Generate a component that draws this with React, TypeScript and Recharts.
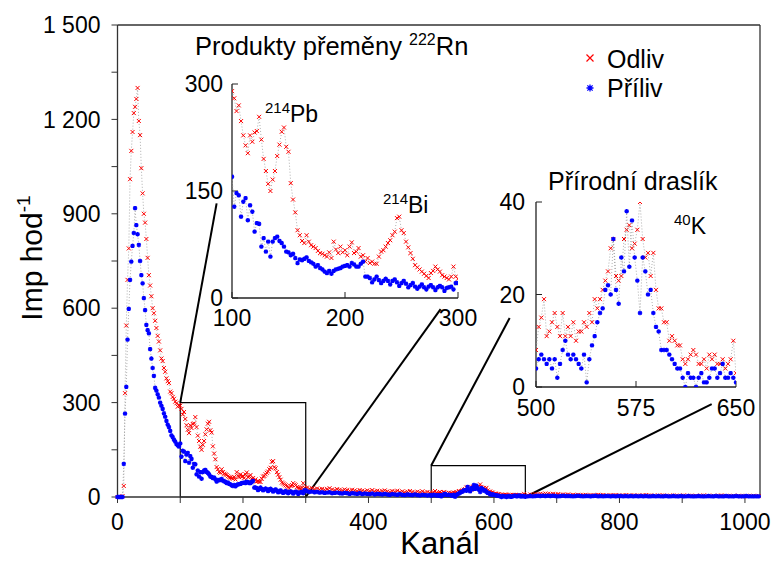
import React from "react";
import { ScatterChart, Scatter, XAxis, YAxis, ReferenceArea, ReferenceLine, CartesianGrid } from "recharts";

// spectrum, in channel segments (first channel, step)
const odlivA = [0, 0, 0, 0, 3, 35, 330, 545, 690, 790, 1010, 1100, 1160, 1220, 1240, 1265, 1300, 1195, 1150, 1045,
    965, 900, 872, 820, 760, 705, 672, 638, 600, 584, 560, 537, 512, 494, 466, 440, 432, 410, 398, 377,
    368, 362, 335, 330, 318, 312, 303, 298, 287, 292];
const prilivA = [0, 0, 0, 0, 0, 105, 265, 350, 500, 598, 690, 748, 798, 839, 918, 864, 835, 801, 750, 705,
    679, 632, 594, 547, 530, 520, 470, 440, 410, 385, 347, 338, 326, 316, 300, 290, 280, 266, 255, 242,
    230, 222, 210, 196, 190, 182, 176, 168, 164, 160];

const odlivB = [290, 280, 262, 270, 248, 228, 214, 203, 228, 219, 232, 234, 254, 222, 195, 178, 160, 150, 166, 178,
    199, 215, 233, 239, 212, 205, 161, 138, 120, 95, 88, 80, 77, 88, 79, 74, 72, 70, 66, 63,
    62, 60, 58, 64, 56, 79, 68, 63, 72, 64, 67, 60, 72, 78, 63, 65, 70, 58, 60, 51,
    56, 49, 51, 48, 48, 58, 65, 67, 72, 77, 81, 88, 93, 112, 114, 95, 91, 79, 71, 63,
    55, 46, 43, 40, 37, 34, 31, 28, 35, 38, 44, 40, 37, 32, 30, 28, 26, 30, 44, 30, 27];
const prilivB = [170, 128, 147, 144, 114, 135, 140, 109, 130, 121, 93, 105, 104, 72, 84, 65, 79, 58, 79, 84,
    86, 80, 77, 72, 65, 64, 60, 62, 56, 49, 54, 53, 55, 57, 52, 50, 48, 44, 46, 42,
    40, 37, 35, 38, 34, 38, 40, 41, 42, 44, 45, 46, 44, 49, 47, 44, 44, 48, 51, 30,
    30, 28, 22, 26, 30, 25, 21, 24, 27, 24, 19, 24, 26, 22, 17, 21, 24, 20, 15, 18,
    21, 16, 13, 16, 19, 15, 12, 16, 18, 15, 11, 15, 17, 15, 10, 14, 15, 16, 12, 21, 21];

const odlivC = [30, 26, 28, 25, 27, 24, 26, 23, 25, 28, 24, 22, 25, 23, 21, 24, 22, 20, 23, 21,
    19, 22, 20, 18, 21, 19, 22, 18, 20, 17, 19, 21, 18, 16, 19, 17, 20, 16, 18, 15,
    17, 19, 16, 14, 17, 15, 18, 14, 16, 13];
const prilivC = [18, 16, 17, 15, 16, 14, 15, 13, 14, 15, 12, 13, 14, 12, 11, 13, 12, 10, 12, 11,
    10, 12, 9, 11, 10, 9, 11, 8, 10, 9, 8, 10, 8, 7, 9, 8, 7, 9, 7, 6,
    8, 7, 6, 8, 6, 5, 7, 6, 5, 6];

const odlivD = [8, 13, 15, 19, 11, 12, 14, 16, 13, 11, 16, 11, 13, 11, 14, 10, 12, 12, 14, 13,
    16, 14, 19, 17, 19, 21, 23, 25, 30, 32, 24, 23, 24, 32, 34, 35, 30, 31, 34, 40,
    32, 28, 29, 24, 29, 21, 17, 17, 14, 14, 10, 11, 10, 9, 9, 6, 5, 6, 7, 8,
    7, 5, 5, 6, 4, 7, 6, 7, 5, 5, 6, 4, 5, 6, 10, 3];
const prilivD = [4, 6, 7, 6, 5, 6, 4, 6, 2, 5, 8, 10, 7, 6, 7, 6, 5, 4, 7, 1,
    6, 9, 11, 14, 16, 17, 21, 22, 20, 32, 21, 18, 28, 25, 38, 26, 36, 28, 23, 16,
    28, 25, 20, 21, 16, 13, 12, 8, 8, 8, 7, 6, 5, 4, 4, 2, 0, 3, 2, 2,
    0, 2, 3, 1, 1, 2, 4, 4, 2, 3, 5, 2, 2, 3, 2, 1];

const odlivE = [6, 8, 7, 9, 8, 10, 9, 11, 10, 9, 10, 8, 9, 7, 8, 7, 8, 6, 7, 6,
    7, 5, 6, 7, 5, 6, 5, 6, 7, 5, 6, 5, 4, 6, 5, 6, 5, 4, 5, 6,
    4, 5, 5, 4, 5, 4, 5, 6, 4, 5, 4, 3, 5, 4, 5, 4, 3, 4, 5, 4,
    3, 4, 5, 3, 4, 4, 3, 4, 3, 4, 5, 3, 4, 3, 4, 3, 4, 5, 3, 4,
    3, 3, 4, 3, 4, 3, 2, 4, 3, 3, 4, 3, 3];
const prilivE = [2, 3, 2, 3, 4, 3, 4, 3, 4, 3, 4, 3, 2, 3, 4, 3, 3, 3, 2, 3,
    4, 3, 2, 3, 3, 2, 3, 4, 2, 3, 2, 3, 3, 2, 3, 2, 3, 3, 2, 3,
    2, 3, 2, 3, 2, 3, 2, 3, 2, 2, 3, 2, 3, 2, 2, 3, 2, 2, 3, 2,
    2, 3, 2, 2, 3, 2, 2, 2, 3, 2, 2, 2, 3, 2, 2, 3, 2, 2, 2, 3,
    2, 2, 2, 3, 2, 2, 2, 3, 2, 2, 2, 2, 2];

const segments = [
    { start: 0, step: 2 },
    { start: 100, step: 2 },
    { start: 302, step: 4 },
    { start: 500, step: 2 },
    { start: 654, step: 4 },
];

const xMainTicks = [0, 100, 200, 300, 400, 500, 600, 700, 800, 900, 1000];
const yMainTicks = [0, 150, 300, 450, 600, 750, 900, 1050, 1200, 1350, 1500];
const xInset1Ticks = [100, 200, 300];
const yInset1Ticks = [0, 150, 300];
const xInset2Ticks = [500, 575, 650];
const yInset2Ticks = [0, 20, 40];

function buildSeries(parts: number[][]) {
    const out: { x: number; y: number }[] = [];
    parts.forEach((vals, k) => {
        const { start, step } = segments[k];
        vals.forEach((y, i) => out.push({ x: start + i * step, y }));
    });
    return out;
}

const odliv = buildSeries([odlivA, odlivB, odlivC, odlivD, odlivE]);
const priliv = buildSeries([prilivA, prilivB, prilivC, prilivD, prilivE]);

const FONT = "'Liberation Sans', Arial, Helvetica, sans-serif";
const RED = "#ff0000";
const BLUE = "#0000ff";
const DOT_LINE = { stroke: "#9a9a9a", strokeWidth: 0.8, strokeDasharray: "1 2" };
const tickStyle = { fontSize: 23, fill: "#000", fontFamily: FONT };

function crossPath(cx: number, cy: number, s: number) {
    return `M${cx - s},${cy - s}L${cx + s},${cy + s}M${cx - s},${cy + s}L${cx + s},${cy - s}`;
}
function starPath(cx: number, cy: number, s: number) {
    const d = s * 0.75;
    return `M${cx - s},${cy}L${cx + s},${cy}M${cx},${cy - s}L${cx},${cy + s}` + crossPath(cx, cy, d);
}

const CrossMark = (props: any) => {
    const { cx, cy } = props;
    if (cx == null || cy == null) return null;
    return <path d={crossPath(cx, cy, 2)} stroke={RED} strokeWidth={1} fill="none" />;
};
const StarMark = (props: any) => {
    const { cx, cy } = props;
    if (cx == null || cy == null) return null;
    return <path d={starPath(cx, cy, 2.2)} stroke={BLUE} strokeWidth={1.3} fill="none" />;
};

const fmtMainY = (v: number) => {
    if (v % 300 !== 0) return "";
    if (v >= 1000) return `${Math.floor(v / 1000)} ${String(v % 1000).padStart(3, "0")}`;
    return String(v);
};

// small zoomed panel; plot area starts at (left, top) on the page
function Inset({ left, top, w, h, xDomain, yDomain, xTicks, yTicks, xMargin, yMargin }: any) {
    const inRange = (p: { x: number }) => p.x >= xDomain[0] && p.x <= xDomain[1];
    return (
        <div style={{ position: "absolute", left: left - 60, top: top - 20 }}>
            <ScatterChart width={60 + w + 30} height={20 + h + 40} margin={{ top: 20, right: 30, bottom: 0, left: 0 }}>
                <CartesianGrid fill="#fff" horizontal={false} vertical={false} />
                <XAxis type="number" dataKey="x" domain={xDomain} ticks={xTicks} height={40} tickSize={-6}
                    tickMargin={xMargin} tick={tickStyle} axisLine={{ stroke: "#222", strokeWidth: 1.3 }}
                    tickLine={{ stroke: "#222" }} interval={0} allowDataOverflow />
                <XAxis xAxisId="top" orientation="top" type="number" domain={xDomain} ticks={xTicks} height={0}
                    tickSize={-6} tickFormatter={() => ""} axisLine={{ stroke: "#222", strokeWidth: 1.3 }}
                    tickLine={{ stroke: "#222" }} allowDataOverflow />
                <YAxis type="number" dataKey="y" domain={yDomain} ticks={yTicks} width={60} tickSize={-6}
                    tickMargin={yMargin} tick={tickStyle} axisLine={{ stroke: "#222", strokeWidth: 1.3 }}
                    tickLine={{ stroke: "#222" }} interval={0} allowDataOverflow />
                <YAxis yAxisId="right" orientation="right" type="number" domain={yDomain} ticks={yTicks} width={0}
                    tickSize={-6} tickFormatter={() => ""} axisLine={{ stroke: "#222", strokeWidth: 1.3 }}
                    tickLine={{ stroke: "#222" }} allowDataOverflow />
                <Scatter data={odliv.filter(inRange)} shape={CrossMark} line={DOT_LINE} isAnimationActive={false} />
                <Scatter data={priliv.filter(inRange)} shape={StarMark} line={DOT_LINE} isAnimationActive={false} />
            </ScatterChart>
        </div>
    );
}

export default function App() {
    return (
        <div style={{ position: "absolute", left: 0, top: 0, width: 778, height: 562, background: "#fff" }}>
            <ScatterChart width={778} height={562} margin={{ top: 25, right: 18, bottom: 25, left: 37.5 }}>
                <XAxis type="number" dataKey="x" domain={[0, 1024]} ticks={xMainTicks} height={40}
                    tickFormatter={(v: number) => (v % 200 === 0 ? String(v) : "")} tickSize={6} tickMargin={11}
                    tick={tickStyle} axisLine={{ stroke: "#333", strokeWidth: 1.3 }} tickLine={{ stroke: "#333" }}
                    interval={0} />
                <YAxis type="number" dataKey="y" domain={[0, 1500]} ticks={yMainTicks} width={80}
                    tickFormatter={fmtMainY} tickSize={6} tickMargin={11} tick={tickStyle} interval={0}
                    axisLine={{ stroke: "#333", strokeWidth: 1.3 }} tickLine={{ stroke: "#333" }} />
                <ReferenceLine y={1500} stroke="#333" strokeWidth={1.3} />
                <ReferenceLine x={1024} stroke="#333" strokeWidth={1.3} />
                <ReferenceArea x1={100} x2={300} y1={0} y2={300} fill="none" stroke="#000" strokeWidth={1.2} />
                <ReferenceArea x1={500} x2={650} y1={0} y2={100} fill="none" stroke="#000" strokeWidth={1.2} />
                <ReferenceLine segment={[{ x: 100, y: 300 }, { x: 158, y: 933 }]} stroke="#000" strokeWidth={2} />
                <ReferenceLine segment={[{ x: 300, y: 0 }, { x: 515, y: 597 }]} stroke="#000" strokeWidth={2} />
                <ReferenceLine segment={[{ x: 500, y: 100 }, { x: 625, y: 569 }]} stroke="#000" strokeWidth={2} />
                <ReferenceLine segment={[{ x: 650, y: 0 }, { x: 947, y: 295 }]} stroke="#000" strokeWidth={2} />
                <Scatter data={odliv} shape={CrossMark} line={DOT_LINE} isAnimationActive={false} />
                <Scatter data={priliv} shape={StarMark} line={DOT_LINE} isAnimationActive={false} />
            </ScatterChart>

            <Inset left={232} top={84} w={226} h={214} xDomain={[100, 300]} yDomain={[0, 300]}
                xTicks={xInset1Ticks} yTicks={yInset1Ticks} xMargin={18} yMargin={15} />
            <Inset left={536} top={202} w={200} h={185} xDomain={[500, 650]} yDomain={[0, 40]}
                xTicks={xInset2Ticks} yTicks={yInset2Ticks} xMargin={19} yMargin={17} />

            {/* titles, annotations and legend */}
            <svg width={778} height={562} style={{ position: "absolute", left: 0, top: 0, pointerEvents: "none" }}
                fontFamily={FONT} fill="#000">
                <text x={440} y={554} fontSize={31} textAnchor="middle">Kanál</text>
                <text transform="translate(42,258) rotate(-90)" fontSize={30} textAnchor="middle">
                    Imp hod<tspan dy={-12} fontSize={19}>-1</tspan>
                </text>
                <text x={195} y={55} fontSize={25.5}>
                    Produkty přeměny <tspan dy={-10} fontSize={16}>222</tspan><tspan dy={10}>Rn</tspan>
                </text>
                <text x={548} y={190} fontSize={25}>Přírodní draslík</text>
                <text x={265} y={122} fontSize={23}>
                    <tspan dy={-9} fontSize={15}>214</tspan><tspan dy={9}>Pb</tspan>
                </text>
                <text x={383} y={213} fontSize={23}>
                    <tspan dy={-9} fontSize={15}>214</tspan><tspan dy={9}>Bi</tspan>
                </text>
                <text x={674} y={234} fontSize={23}>
                    <tspan dy={-9} fontSize={15}>40</tspan><tspan dy={9}>K</tspan>
                </text>
                <path d={crossPath(590, 58, 3.5)} stroke={RED} strokeWidth={1.2} fill="none" />
                <text x={607} y={68} fontSize={25}>Odliv</text>
                <path d={starPath(590, 88, 3.5)} stroke={BLUE} strokeWidth={1.3} fill="none" />
                <text x={607} y={97} fontSize={25}>Příliv</text>
            </svg>
        </div>
    );
}
